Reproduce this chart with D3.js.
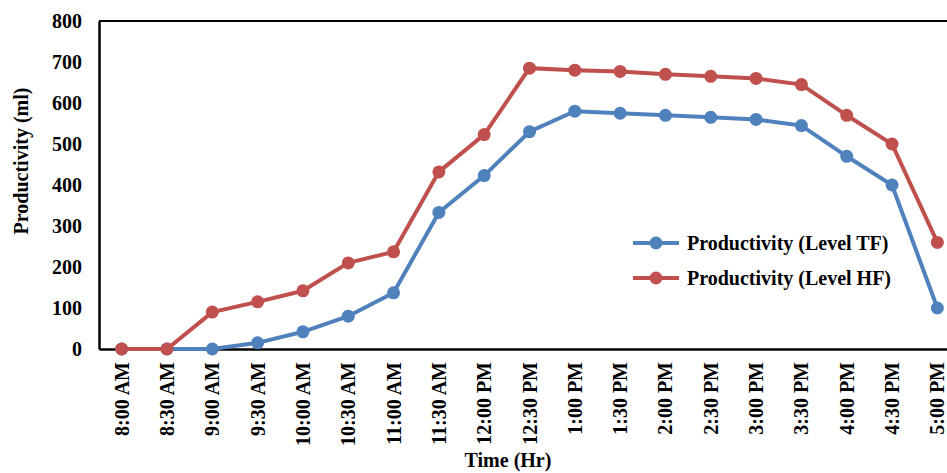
<!DOCTYPE html>
<html><head><meta charset="utf-8">
<script src="https://cdn.jsdelivr.net/npm/d3@7"></script>
<style>body{margin:0;background:#fff;overflow:hidden}svg{display:block}text{font-family:"Liberation Serif","Times New Roman",serif;font-weight:bold;fill:#000}</style>
</head><body>
<script>
const categories = ["8:00 AM","8:30 AM","9:00 AM","9:30 AM","10:00 AM","10:30 AM","11:00 AM","11:30 AM","12:00 PM","12:30 PM","1:00 PM","1:30 PM","2:00 PM","2:30 PM","3:00 PM","3:30 PM","4:00 PM","4:30 PM","5:00 PM"];
const levelTF = [0,0,0,15,42,80,137,333,423,530,580,575,570,565,560,545,470,400,100];
const levelHF = [0,0,90,115,142,210,237,432,523,685,680,677,670,665,660,645,570,500,260];
const yTicks = [0,100,200,300,400,500,600,700,800];
const seriesNames = ["Productivity (Level TF)","Productivity (Level HF)"];
const colors = ["#4F81BD","#C0504D"];

const W=947,H=473;
const m={left:99,top:21};
const plotW=861, plotH=328;
const svg=d3.select("body").append("svg").attr("width",W).attr("height",H);
const x=d3.scaleBand().domain(categories).range([m.left,m.left+plotW]);
const y=d3.scaleLinear().domain([0,800]).range([m.top+plotH,m.top]);

// frame
svg.append("line").attr("x1",m.left).attr("x2",m.left+plotW).attr("y1",m.top).attr("y2",m.top).attr("stroke","#000").attr("stroke-width",2);
svg.append("line").attr("x1",m.left+plotW).attr("x2",m.left+plotW).attr("y1",m.top).attr("y2",m.top+plotH).attr("stroke","#000").attr("stroke-width",2);

const yAxis=svg.append("g").attr("transform",`translate(${m.left},0)`).call(d3.axisLeft(y).tickValues(yTicks).tickSize(0).tickPadding(17));
yAxis.select(".domain").attr("stroke","#000").attr("stroke-width",2.5);
yAxis.selectAll("text").style("font-size","20px").style("font-family","Liberation Serif").style("font-weight","bold");

const xAxis=svg.append("g").attr("transform",`translate(0,${m.top+plotH})`).call(d3.axisBottom(x).tickSize(0).tickPadding(0));
xAxis.select(".domain").attr("stroke","#000").attr("stroke-width",2.5);
xAxis.selectAll("text").attr("transform","rotate(-90)").attr("x",-13).attr("y",0).attr("dy","0.35em").attr("text-anchor","end")
  .style("font-size","20px").style("font-family","Liberation Serif").style("font-weight","bold");

const line=d3.line().x((d,i)=>x(categories[i])+x.bandwidth()/2).y(d=>y(d));
[levelTF,levelHF].forEach((s,k)=>{
  const g=svg.append("g");
  g.append("path").datum(s).attr("d",line).attr("fill","none").attr("stroke",colors[k]).attr("stroke-width",4);
  g.selectAll("circle").data(s).join("circle").attr("cx",(d,i)=>x(categories[i])+x.bandwidth()/2).attr("cy",d=>y(d)).attr("r",6.5).attr("fill",colors[k]);
});

// titles
svg.append("text").attr("transform",`translate(21,161) rotate(-90)`).attr("text-anchor","middle").attr("dy","0.35em").style("font-size","20px").text("Productivity (ml)");
svg.append("text").attr("x",508).attr("y",467).attr("text-anchor","middle").style("font-size","20px").text("Time (Hr)");

// legend
seriesNames.forEach((n,k)=>{
  const ly=243+k*35;
  svg.append("line").attr("x1",633).attr("x2",679).attr("y1",ly).attr("y2",ly).attr("stroke",colors[k]).attr("stroke-width",4);
  svg.append("circle").attr("cx",656).attr("cy",ly).attr("r",6.5).attr("fill",colors[k]);
  svg.append("text").attr("x",687).attr("y",ly).attr("dy","0.35em").style("font-size","20px").text(n);
});
</script>
</body></html>
